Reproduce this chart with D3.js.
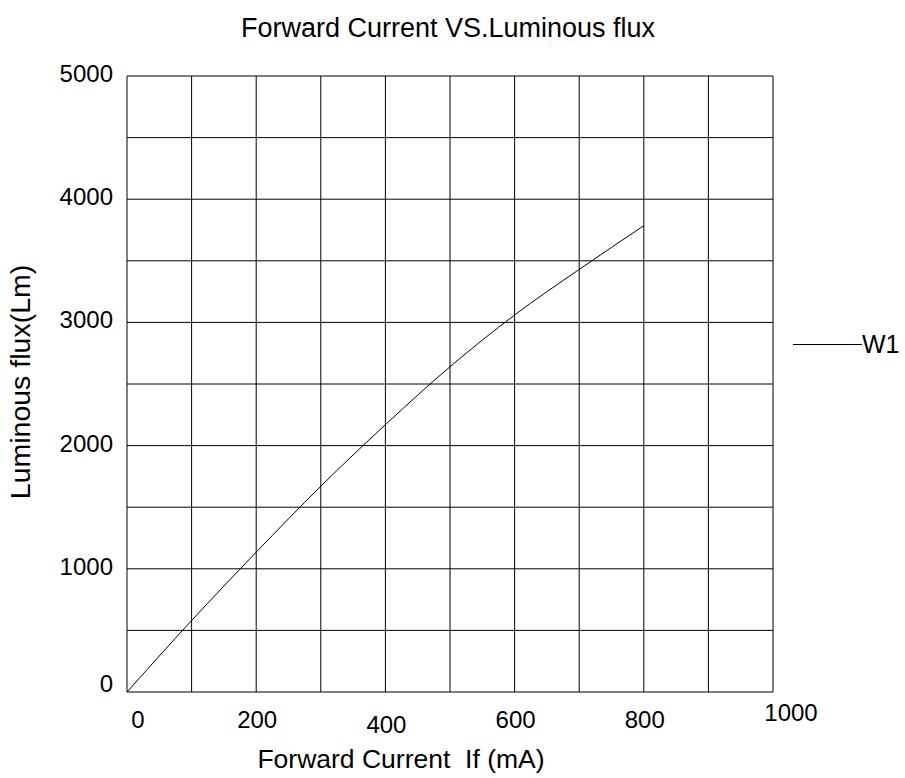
<!DOCTYPE html>
<html><head><meta charset="utf-8">
<script src="https://cdn.jsdelivr.net/npm/d3@7"></script>
<style>html,body{margin:0;padding:0;background:#fff}svg text{font-family:"Liberation Sans",Arial,sans-serif;fill:#000;white-space:pre}</style>
</head><body>
<script>
const currents = [0, 100, 200, 300, 400, 500, 600, 700, 800];
const flux = [0, 580, 1135, 1670, 2170, 2640, 3060, 3430, 3785];
const xTickValues = [0, 200, 400, 600, 800, 1000];
const yTickValues = [0, 1000, 2000, 3000, 4000, 5000];
const seriesName = "W1";
const chartTitle = "Forward Current VS.Luminous flux";
const xTitle = "Forward Current  If (mA)";
const yTitle = "Luminous flux(Lm)";

const W = 905, H = 778;
const L = 127, R = 773, T = 76, B = 692;
const svg = d3.select("body").append("svg").attr("width", W).attr("height", H);
svg.append("rect").attr("width", W).attr("height", H).attr("fill", "#fff");

const x = d3.scaleLinear().domain([0, 1000]).range([L, R]);
const y = d3.scaleLinear().domain([0, 5000]).range([B, T]);

const g = svg.append("g");
g.selectAll("line.v").data(d3.range(0, 1001, 100)).join("line")
  .attr("x1", d => x(d)).attr("x2", d => x(d)).attr("y1", T).attr("y2", B)
  .attr("stroke", "#000").attr("stroke-width", 1);
g.selectAll("line.h").data(d3.range(0, 5001, 500)).join("line")
  .attr("y1", d => y(d)).attr("y2", d => y(d)).attr("x1", L).attr("x2", R)
  .attr("stroke", "#000").attr("stroke-width", 1);

const pts = currents.map((c, i) => [c, flux[i]]);
g.append("path").datum(pts)
  .attr("d", d3.line().x(d => x(d[0])).y(d => y(d[1])).curve(d3.curveMonotoneX))
  .attr("fill", "none").attr("stroke", "#000").attr("stroke-width", 1);

// tick labels (slight irregular placement like the original)
const xLabelDx = v => v === 0 ? 11 : v === 1000 ? 18 : 1;
const xLabelY = v => v === 400 ? 733 : v === 1000 ? 721 : 728;
svg.selectAll("text.xt").data(xTickValues).join("text")
  .attr("x", d => x(d) + xLabelDx(d)).attr("y", d => xLabelY(d))
  .attr("text-anchor", "middle").attr("font-size", 24).text(d => d);
svg.selectAll("text.yt").data(yTickValues).join("text")
  .attr("x", 113).attr("y", d => y(d) + (d === 0 ? 0 : 6))
  .attr("text-anchor", "end").attr("font-size", 24).text(d => d);

svg.append("text").attr("x", 448).attr("y", 37).attr("text-anchor", "middle")
  .attr("font-size", 27).text(chartTitle);
svg.append("text").attr("x", 401).attr("y", 768).attr("text-anchor", "middle")
  .attr("font-size", 26.5).text(xTitle);
svg.append("text").attr("transform", "translate(30,382) rotate(-90)")
  .attr("text-anchor", "middle").attr("font-size", 28.5).text(yTitle);

svg.append("line").attr("x1", 793).attr("x2", 862).attr("y1", 344.5).attr("y2", 344.5)
  .attr("stroke", "#000").attr("stroke-width", 1);
svg.append("text").attr("x", 862).attr("y", 353).attr("font-size", 25).text(seriesName);
</script>
</body></html>
